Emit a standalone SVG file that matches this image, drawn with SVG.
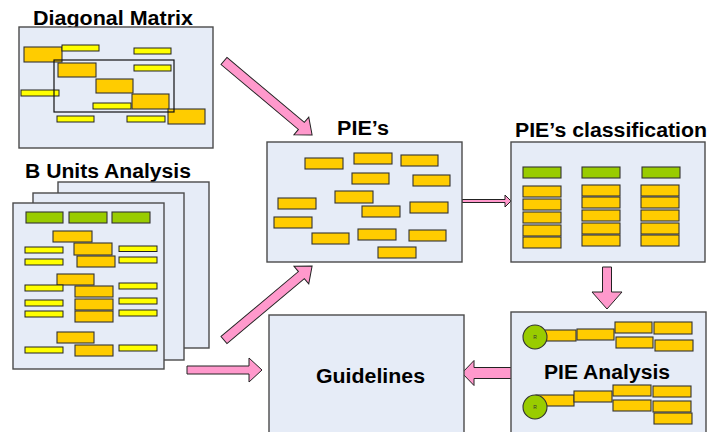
<svg xmlns="http://www.w3.org/2000/svg" width="722" height="432" viewBox="0 0 722 432">
  <style>
    .panel { fill: #E6ECF7; stroke: #4A4A4A; stroke-width: 1.4; }
    .frame { fill: none; stroke: #111; stroke-width: 1.2; }
    .org { fill: #FFCC00; stroke: #333; stroke-width: 1.1; }
    .yel { fill: #FFFF00; stroke: #222; stroke-width: 1; }
    .grn { fill: #99CC00; stroke: #333; stroke-width: 1.1; }
    .dot { fill: #99CC00; stroke: #333; stroke-width: 1.1; }
    .arrow { fill: #FF99CC; stroke: #222; stroke-width: 1; stroke-linejoin: miter; }
    .title { font-family: "Liberation Sans", Arial, sans-serif; font-weight: bold; font-size: 20px; fill: #000; }
    .tiny { font-family: "Liberation Sans", Arial, sans-serif; font-size: 5px; fill: #333; text-anchor: middle; }
  </style>
  <rect width="722" height="432" fill="#FFFFFF"/>

  <!-- block arrows between the panels -->
  <g id="connectors">
    <polygon class="arrow" transform="translate(224,61) rotate(40)" points="0,-4.6 101,-4.6 101,-11.5 115,0 101,11.5 101,4.6 0,4.6"/>
    <polygon class="arrow" transform="translate(224,340) rotate(-40)" points="0,-4.6 101,-4.6 101,-11.5 115,0 101,11.5 101,4.6 0,4.6"/>
    <polygon class="arrow" points="462,199.5 505,199.5 505,195 511,201 505,207 505,202.5 462,202.5"/>
    <polygon class="arrow" points="602.5,267 611.5,267 611.5,292 622,292 607,309 592,292 602.5,292"/>
    <polygon class="arrow" points="187,366 249,366 249,358 262,370 249,382 249,374 187,374"/>
    <polygon class="arrow" points="462,373 474,360.5 474,367.5 512,367.5 512,378.5 474,378.5 474,385.5"/>
  </g>

  <!-- Diagonal Matrix -->
  <g id="diagonal-matrix">
    <text class="title" x="33" y="25" textLength="160" lengthAdjust="spacingAndGlyphs">Diagonal Matrix</text>
    <rect class="panel" x="19" y="27" width="194" height="121"/>
    <rect class="org" x="24" y="47" width="38" height="15"/>
    <rect class="yel" x="62" y="45" width="37" height="6"/>
    <rect class="yel" x="134" y="48" width="37" height="6"/>
    <rect class="org" x="58" y="63" width="38" height="14"/>
    <rect class="yel" x="134" y="65" width="37" height="6"/>
    <rect class="org" x="96" y="79" width="37" height="14"/>
    <rect class="yel" x="21" y="90" width="38" height="6"/>
    <rect class="org" x="132" y="94" width="37" height="15"/>
    <rect class="yel" x="93" y="103" width="38" height="6"/>
    <rect class="org" x="168" y="109" width="37" height="15"/>
    <rect class="yel" x="57" y="116" width="37" height="6"/>
    <rect class="yel" x="127" y="116" width="38" height="6"/>
    <rect class="frame" x="54" y="60" width="120" height="52"/>
  </g>

  <!-- B Units Analysis: stacked sheets -->
  <g id="b-units-analysis">
    <text class="title" x="25" y="178" textLength="166" lengthAdjust="spacingAndGlyphs">B Units Analysis</text>
    <rect class="panel" x="58" y="182" width="151" height="166"/>
    <rect class="panel" x="33" y="193" width="151" height="167"/>
    <rect class="panel" x="13" y="203" width="151" height="166"/>
    <rect class="grn" x="26" y="212" width="37" height="11"/>
    <rect class="grn" x="69" y="212" width="38" height="11"/>
    <rect class="grn" x="112" y="212" width="38" height="11"/>

    <rect class="org" x="53" y="231" width="39" height="11"/>
    <rect class="yel" x="25" y="247" width="38" height="6"/>
    <rect class="org" x="74" y="243" width="38" height="12"/>
    <rect class="yel" x="119" y="246" width="38" height="5.5"/>
    <rect class="yel" x="25" y="259" width="38" height="6"/>
    <rect class="org" x="77" y="256" width="38" height="11"/>
    <rect class="yel" x="119" y="257" width="38" height="6"/>

    <rect class="org" x="57" y="274" width="37" height="11"/>
    <rect class="yel" x="25" y="285" width="38" height="6"/>
    <rect class="org" x="75" y="286" width="38" height="11"/>
    <rect class="yel" x="119" y="283" width="38" height="6"/>
    <rect class="yel" x="25" y="300" width="38" height="6"/>
    <rect class="org" x="75" y="299" width="38" height="11"/>
    <rect class="yel" x="119" y="298" width="38" height="6"/>
    <rect class="yel" x="25" y="311" width="38" height="6"/>
    <rect class="org" x="75" y="311" width="38" height="11"/>
    <rect class="yel" x="119" y="310" width="38" height="6"/>

    <rect class="org" x="57" y="332" width="37" height="11"/>
    <rect class="yel" x="25" y="347" width="38" height="6"/>
    <rect class="org" x="75" y="345" width="38" height="11"/>
    <rect class="yel" x="119" y="345" width="38" height="6"/>
  </g>

  <!-- PIE's -->
  <g id="pies">
    <text class="title" x="337" y="135" textLength="52" lengthAdjust="spacingAndGlyphs">PIE’s</text>
    <rect class="panel" x="267" y="142" width="195" height="120"/>
    <rect class="org" x="305" y="158" width="38" height="11"/>
    <rect class="org" x="354" y="153" width="38" height="11"/>
    <rect class="org" x="401" y="155" width="37" height="11"/>
    <rect class="org" x="352" y="173" width="37" height="11"/>
    <rect class="org" x="413" y="175" width="37" height="11"/>
    <rect class="org" x="335" y="191" width="38" height="12"/>
    <rect class="org" x="278" y="198" width="38" height="11"/>
    <rect class="org" x="362" y="206" width="38" height="11"/>
    <rect class="org" x="410" y="202" width="38" height="11"/>
    <rect class="org" x="274" y="217" width="38" height="11"/>
    <rect class="org" x="312" y="233" width="37" height="11"/>
    <rect class="org" x="358" y="229" width="38" height="11"/>
    <rect class="org" x="409" y="230" width="37" height="11"/>
    <rect class="org" x="378" y="247" width="38" height="11"/>
  </g>

  <!-- PIE's classification -->
  <g id="pies-classification">
    <text class="title" x="515" y="137" textLength="192" lengthAdjust="spacingAndGlyphs">PIE’s classification</text>
    <rect class="panel" x="511" y="142" width="194" height="120"/>
    <rect class="grn" x="523" y="167" width="38" height="11"/>
    <rect class="grn" x="582" y="167" width="38" height="11"/>
    <rect class="grn" x="642" y="167" width="38" height="11"/>

    <rect class="org" x="523" y="186" width="38" height="11"/>
    <rect class="org" x="523" y="199" width="38" height="11"/>
    <rect class="org" x="523" y="212" width="38" height="11"/>
    <rect class="org" x="523" y="225" width="38" height="11"/>
    <rect class="org" x="523" y="237" width="38" height="11"/>

    <rect class="org" x="582" y="185" width="38" height="11"/>
    <rect class="org" x="582" y="197" width="38" height="11"/>
    <rect class="org" x="582" y="210" width="38" height="11"/>
    <rect class="org" x="582" y="223" width="38" height="11"/>
    <rect class="org" x="582" y="235" width="38" height="11"/>

    <rect class="org" x="641" y="185" width="38" height="11"/>
    <rect class="org" x="641" y="197" width="38" height="11"/>
    <rect class="org" x="641" y="210" width="38" height="11"/>
    <rect class="org" x="641" y="223" width="38" height="11"/>
    <rect class="org" x="641" y="235" width="38" height="11"/>
  </g>

  <!-- Guidelines -->
  <g id="guidelines">
    <rect class="panel" x="269" y="315" width="195" height="130"/>
    <text class="title" x="316" y="383" textLength="109" lengthAdjust="spacingAndGlyphs">Guidelines</text>
  </g>

  <!-- PIE Analysis -->
  <g id="pie-analysis">
    <rect class="panel" x="511" y="312" width="195" height="133"/>
    <rect class="org" x="544" y="330" width="32" height="11"/>
    <rect class="org" x="577" y="329" width="37" height="11"/>
    <rect class="org" x="615" y="322" width="37" height="11"/>
    <rect class="org" x="654" y="322" width="38" height="12"/>
    <rect class="org" x="616" y="337" width="37" height="11"/>
    <rect class="org" x="655" y="340" width="38" height="11"/>
    <circle class="dot" cx="535" cy="337" r="12"/>
    <text class="tiny" x="535" y="339">R</text>

    <text class="title" x="544" y="379" textLength="126" lengthAdjust="spacingAndGlyphs">PIE Analysis</text>

    <rect class="org" x="536" y="395" width="38" height="11"/>
    <rect class="org" x="574" y="391" width="38" height="11"/>
    <rect class="org" x="613" y="385" width="38" height="11"/>
    <rect class="org" x="653" y="386" width="38" height="11"/>
    <rect class="org" x="613" y="400" width="38" height="11"/>
    <rect class="org" x="653" y="401" width="38" height="11"/>
    <rect class="org" x="654" y="413" width="38" height="11"/>
    <circle class="dot" cx="535" cy="407" r="12"/>
    <text class="tiny" x="535" y="409">R</text>
  </g>
</svg>
